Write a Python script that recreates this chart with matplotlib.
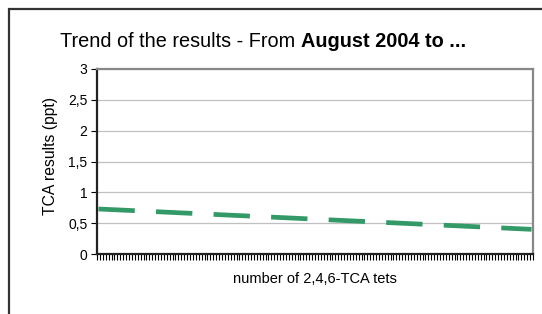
import matplotlib
matplotlib.use("Agg")
import matplotlib.pyplot as plt
from matplotlib.patches import Rectangle
import numpy as np

plt.rcParams['font.family'] = ['Liberation Sans', 'DejaVu Sans']

# data
n_tests = 150                      # number of category slots on the x axis
trend_start = 0.73                 # trend value at first test
trend_end = 0.40                   # trend value at last test
y_ticks = [0, 0.5, 1, 1.5, 2, 2.5, 3]
y_tick_labels = ["0", "0,5", "1", "1,5", "2", "2,5", "3"]
title_plain = "Trend of the results - From "
title_bold = "August 2004 to ..."
x_label = "number of 2,4,6-TCA tets"
y_label = "TCA results (ppt)"

W, H = 542, 314
fig = plt.figure(figsize=(W / 100, H / 100), dpi=100)

# outer chart frame
fig.patches.append(Rectangle((9 / W, -0.2), 1.2, 1 - 9 / H + 0.2,
                             transform=fig.transFigure, fill=False,
                             edgecolor='#333333', linewidth=1.6, clip_on=False))

ax = fig.add_axes([97 / W, 1 - 254 / H, (533 - 97) / W, (254 - 69) / H])
ax.set_xlim(0, n_tests)
ax.set_ylim(0, 3)

# trend line across all tests
ax.plot([0.5, n_tests - 0.5], [trend_start, trend_end], color='#339966',
        linewidth=3.4, linestyle=(0, (7.7, 4.5)), solid_capstyle='butt',
        dash_capstyle='butt', zorder=3)

ax.set_yticks(y_ticks)
ax.set_yticklabels(y_tick_labels, fontsize=10)
ax.yaxis.grid(True, color='#c0c0c0', linewidth=0.9)
ax.set_axisbelow(True)
ax.set_xticks(np.arange(0, n_tests + 1))
ax.set_xticklabels([])
ax.tick_params(axis='x', direction='out', length=4.5, width=0.8, color='black')
ax.tick_params(axis='y', direction='out', length=4, width=0.8, color='black', pad=3)

for s in ['left', 'bottom']:
    ax.spines[s].set_color('#222222')
    ax.spines[s].set_linewidth(1.6)
for s in ['top', 'right']:
    ax.spines[s].set_color('#888888')
    ax.spines[s].set_linewidth(1.6)

fig.text(315 / W, 1 - 279 / H, x_label, ha='center', va='center', fontsize=10.5)
fig.text(50 / W, 1 - 156 / H, y_label, ha='center', va='center',
         rotation=90, fontsize=11.3)

t1 = fig.text(60 / W, 1 - 47 / H, title_plain, ha='left', va='baseline',
              fontsize=14.3)
fig.canvas.draw()
ext = t1.get_window_extent()
fig.text(ext.x1 / W, 1 - 47 / H, title_bold, ha='left', va='baseline',
         fontsize=14.3, fontweight='bold')

fig.savefig("out.png", dpi=100)
